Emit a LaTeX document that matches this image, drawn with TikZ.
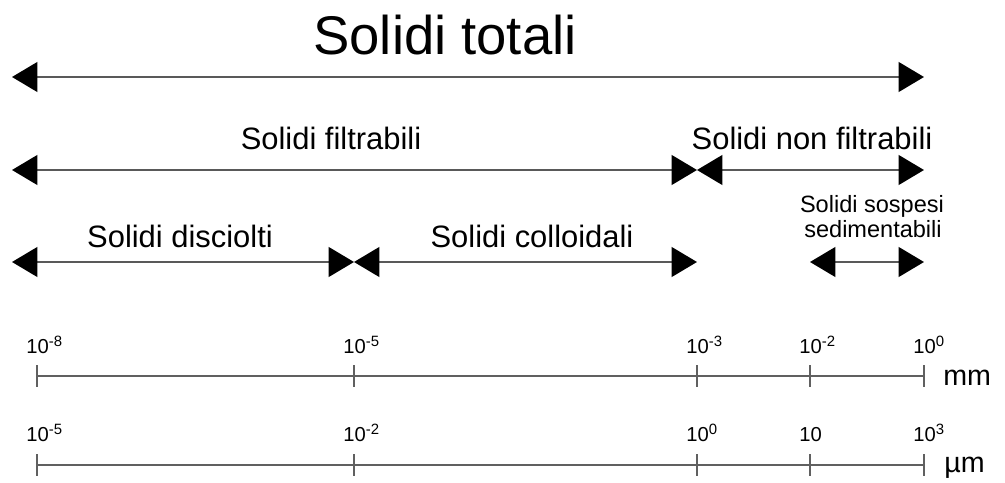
\documentclass[tikz,border=0pt]{standalone}
\usepackage{fontspec}
\setmainfont{Liberation Sans}
\usetikzlibrary{arrows.meta, positioning}

\newcommand\titlesize{\fontsize{31}{36}\selectfont}
\newcommand\rangesize{\fontsize{17.6}{21}\selectfont}
\newcommand\smallsize{\fontsize{13.4}{16}\selectfont}
\newcommand\ticksize{\fontsize{11.5}{13}\selectfont}
\newcommand\unitsize{\fontsize{16.3}{19}\selectfont}
\newcommand\expo[1]{\raisebox{0.65ex}{\fontsize{8.5}{9}\selectfont #1}}

\begin{document}
\begin{tikzpicture}[x=0.02cm,y=-0.02cm,<->,>={Triangle[length=14.5pt,width=17pt,color=black]},
    solidspan/.style={draw=gray!70!black,line width=1.1pt},
    scaleline/.style={-,draw=gray!75!black,line width=0.9pt},
    lbl/.style={inner sep=0pt,anchor=base},
    ticklbl/.style={inner sep=0pt,anchor=base west,font=\ticksize},
    unitlbl/.style={inner sep=0pt,anchor=base west,font=\unitsize}]

   \useasboundingbox (0,0) rectangle (1005,483);

   % Arrow end points
      \coordinate (tot1) at (12,77);
      \coordinate (tot2) at (924,77);
      \coordinate (fil1) at (12,170);
      \coordinate (fil2) at (697,170);
      \coordinate (nf2)  at (924,170);
      \coordinate (dis1) at (12,262);
      \coordinate (dis2) at (354,262);
      \coordinate (col2) at (697,262);
      \coordinate (sed1) at (810,262);
      \coordinate (sed2) at (924,262);

   % Labels
      \node[lbl,font=\titlesize]  (tot) at (445,55)  {Solidi totali};
      \node[lbl,font=\rangesize]  (fil) at (331,150) {Solidi filtrabili};
      \node[lbl,font=\rangesize]  (nf)  at (812,150) {Solidi non filtrabili};
      \node[lbl,font=\rangesize]  (dis) at (180,248) {Solidi disciolti};
      \node[lbl,font=\rangesize]  (col) at (532,248) {Solidi colloidali};
      \node[lbl,font=\smallsize]  (sos) at (872,213) {Solidi sospesi};
      \node[lbl,font=\smallsize]  (sdm) at (873,237) {sedimentabili};

   % Ranges
      \draw[solidspan] (tot1) -- (tot2);
      \draw[solidspan] (fil1) -- (fil2);
      \draw[solidspan] (fil2) -- (nf2);
      \draw[solidspan] (dis1) -- (dis2);
      \draw[solidspan] (dis2) -- (col2);
      \draw[solidspan] (sed1) -- (sed2);

   % Scale in mm
      \coordinate (mm1) at (37,376);
      \coordinate (mm2) at (924,376);
      \draw[scaleline] (mm1) -- (mm2);
      \foreach \x in {37,354,697,810,924}
         \draw[scaleline] (\x,365) -- (\x,387);
      \node[ticklbl] (m8) at (26,353)  {10\expo{-8}};
      \node[ticklbl] (m5) at (343,353) {10\expo{-5}};
      \node[ticklbl] (m3) at (686,353) {10\expo{-3}};
      \node[ticklbl] (m2) at (799,353) {10\expo{-2}};
      \node[ticklbl] (m0) at (913,353) {10\expo{0}};
      \node[unitlbl] (mm) at (943,385) {mm};

   % Scale in um
      \coordinate (um1) at (37,465);
      \coordinate (um2) at (924,465);
      \draw[scaleline] (um1) -- (um2);
      \foreach \x in {37,354,697,810,924}
         \draw[scaleline] (\x,454) -- (\x,476);
      \node[ticklbl] (u5) at (26,441)  {10\expo{-5}};
      \node[ticklbl] (u2) at (343,441) {10\expo{-2}};
      \node[ticklbl] (u0) at (686,441) {10\expo{0}};
      \node[ticklbl] (u1) at (799,441) {10};
      \node[ticklbl] (u3) at (913,441) {10\expo{3}};
      \node[unitlbl] (um) at (944,472) {µm};
\end{tikzpicture}
\end{document}
